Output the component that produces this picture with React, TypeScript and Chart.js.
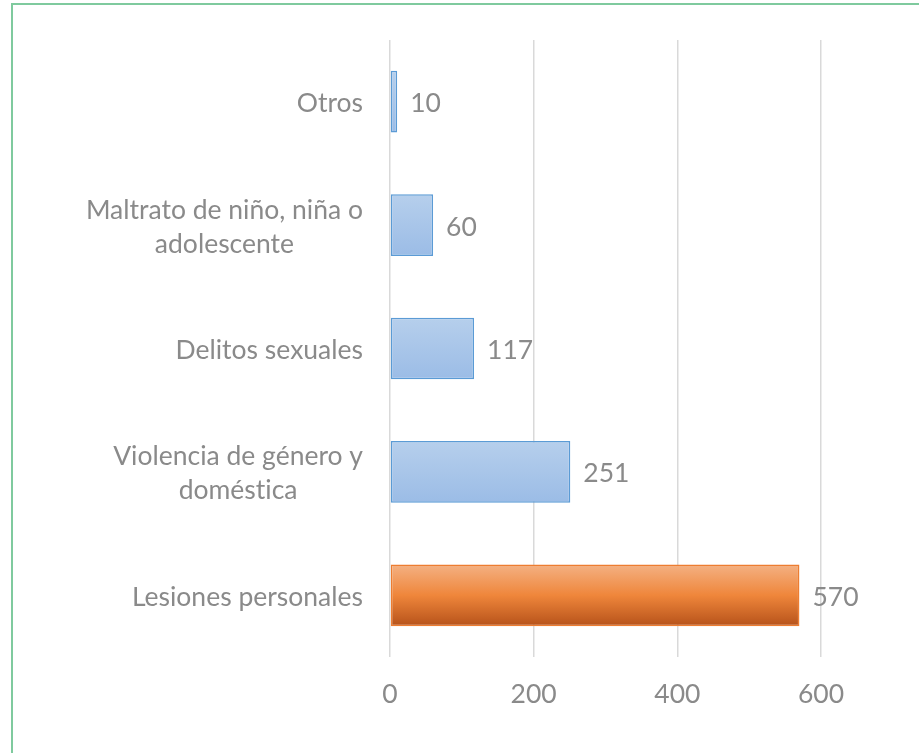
import React, { useEffect, useRef } from "react";
import { Chart, registerables } from "chart.js";

Chart.register(...registerables);

const categoryLines: string[][] = [
  ["Otros"],
  ["Maltrato de niño, niña o", "adolescente"],
  ["Delitos sexuales"],
  ["Violencia de género y", "doméstica"],
  ["Lesiones personales"],
];
const values: number[] = [10, 60, 117, 251, 570];
const highlightCategory = "Lesiones personales";
const xTicks: number[] = [0, 200, 400, 600];

const FONT = "Lato, 'Open Sans', sans-serif";
const FONT_SIZE = 26.5;
const LINE_H = 34;
const TEXT_COLOR = "#8a8a8a";

const labels = categoryLines.map((l) => l.join(" "));

export default function App() {
  const ref = useRef<HTMLCanvasElement | null>(null);

  useEffect(() => {
    if (!ref.current) return;

    const barGradient = (c: any) => {
      const chart = c.chart;
      const i = c.dataIndex;
      const hl = labels[i] === highlightCategory;
      const y = chart.scales?.y;
      if (!y || !chart.chartArea || i === undefined) return hl ? "#ed7d31" : "#a9c6ea";
      const cy = y.getPixelForValue(i);
      const half = (y.height / labels.length) * 0.25;
      const g = chart.ctx.createLinearGradient(0, cy - half, 0, cy + half);
      if (hl) {
        g.addColorStop(0, "#f4b183");
        g.addColorStop(0.5, "#ef863b");
        g.addColorStop(1, "#b6521a");
      } else {
        g.addColorStop(0, "#b6cfec");
        g.addColorStop(1, "#9bbce6");
      }
      return g;
    };

    const setText = (ctx: any) => {
      ctx.font = `${FONT_SIZE}px ${FONT}`;
      ctx.fillStyle = TEXT_COLOR;
      try {
        ctx.textRendering = "optimizeSpeed";
      } catch (e) {}
    };

    const categoryLabelPlugin = {
      id: "categoryLabels",
      afterDraw(chart: any) {
        const y = chart.scales.y;
        const ctx = chart.ctx;
        ctx.save();
        setText(ctx);
        ctx.textAlign = "center";
        ctx.textBaseline = "middle";
        const right = chart.chartArea.left - 27;
        categoryLines.forEach((lines, i) => {
          const cy = y.getPixelForValue(i) + 2;
          const w = Math.max(...lines.map((l) => ctx.measureText(l).width));
          const cx = right - w / 2;
          lines.forEach((l, j) => {
            ctx.fillText(l, cx, cy + (j - (lines.length - 1) / 2) * LINE_H);
          });
        });
        ctx.restore();
      },
    };

    const dataLabelPlugin = {
      id: "dataLabels",
      afterDatasetsDraw(chart: any) {
        const ctx = chart.ctx;
        const meta = chart.getDatasetMeta(0);
        ctx.save();
        setText(ctx);
        ctx.textAlign = "left";
        ctx.textBaseline = "middle";
        meta.data.forEach((bar: any, i: number) => {
          ctx.fillText(String(values[i]), bar.x + 13, bar.y + 2);
        });
        ctx.restore();
      },
    };

    const chart = new Chart(ref.current, {
      type: "bar",
      data: {
        labels,
        datasets: [
          {
            data: values,
            backgroundColor: barGradient,
            borderColor: labels.map((l) => (l === highlightCategory ? "#ed7d31" : "#5b9bd5")),
            borderWidth: 1.5,
            borderSkipped: false,
            categoryPercentage: 1,
            barPercentage: 0.5,
          },
        ],
      },
      options: {
        indexAxis: "y",
        animation: false,
        responsive: false,
        devicePixelRatio: 1,
        layout: { padding: { left: 0, top: 40, right: 98, bottom: 36 } },
        plugins: {
          legend: { display: false },
          tooltip: { enabled: false },
          title: { display: false },
        },
        scales: {
          x: {
            min: 0,
            max: 600,
            afterBuildTicks: (s: any) => {
              s.ticks = xTicks.map((v) => ({ value: v }));
            },
            afterFit: (s: any) => {
              s.height = 60;
            },
            grid: { color: "#d9d9d9", lineWidth: 1.5, drawTicks: false },
            border: { display: false },
            ticks: {
              padding: 22,
              color: TEXT_COLOR,
              font: { family: FONT, size: FONT_SIZE },
            },
          },
          y: {
            afterFit: (s: any) => {
              s.width = 390;
            },
            grid: { display: false },
            border: { display: false },
            ticks: { display: false },
          },
        },
      },
      plugins: [categoryLabelPlugin, dataLabelPlugin],
    });

    return () => chart.destroy();
  }, []);

  return (
    <div
      style={{
        position: "fixed",
        left: 0,
        top: 0,
        width: 919,
        height: 753,
        overflow: "hidden",
        background: "#ffffff",
      }}
    >
      <canvas ref={ref} width={919} height={753} style={{ position: "absolute", left: 0, top: 0 }} />
      <div
        style={{
          position: "absolute",
          left: 11,
          top: 3,
          width: 1000,
          height: 1000,
          borderLeft: "2px solid #7fca9e",
          borderTop: "2px solid #7fca9e",
          pointerEvents: "none",
        }}
      />
    </div>
  );
}
